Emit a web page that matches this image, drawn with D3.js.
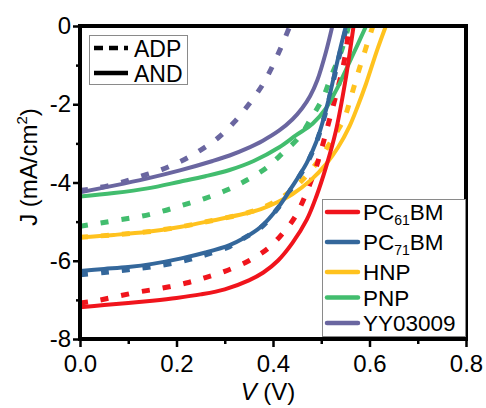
<!DOCTYPE html>
<html>
<head>
<meta charset="utf-8">
<script src="https://cdn.jsdelivr.net/npm/d3@7"></script>
<style>
  html, body { margin: 0; padding: 0; background: #fff; }
  svg text { font-family: "Liberation Sans", Arial, sans-serif; fill: #000; }
</style>
</head>
<body>
<svg id="chart" width="486" height="408"></svg>
<script>
// J–V curves: voltage (V) and current density (mA/cm²) for each acceptor,
// ADP (dashed) and AND (solid) processing.
const acceptors = ["PC61BM", "PC71BM", "HNP", "PNP", "YY03009"];
const colors = ["#f0141c", "#34679b", "#ffc21e", "#42bd6e", "#6a66a0"];

const pc61AndV = [0, 0.05, 0.10, 0.15, 0.20, 0.25, 0.30, 0.35, 0.38, 0.41, 0.44, 0.47, 0.49, 0.51, 0.53, 0.55, 0.567];
const pc61AndJ = [-7.19, -7.13, -7.08, -7.02, -6.95, -6.86, -6.73, -6.5, -6.3, -6.0, -5.55, -4.95, -4.35, -3.6, -2.7, -1.4, 0];
const pc61AdpV = [0, 0.03, 0.07, 0.12, 0.17, 0.22, 0.26, 0.30, 0.35, 0.39, 0.42, 0.448, 0.486, 0.50, 0.513, 0.537, 0.548, 0.558];
const pc61AdpJ = [-7.08, -7.03, -6.93, -6.8, -6.7, -6.57, -6.43, -6.27, -6.0, -5.68, -5.3, -4.83, -3.73, -3.17, -2.58, -1.46, -0.87, 0];

const pc71AndV = [0, 0.05, 0.10, 0.15, 0.21, 0.26, 0.31, 0.34, 0.375, 0.41, 0.44, 0.47, 0.49, 0.503, 0.515, 0.527, 0.54, 0.551];
const pc71AndJ = [-6.26, -6.21, -6.16, -6.08, -5.94, -5.79, -5.6, -5.42, -5.13, -4.65, -4.1, -3.5, -2.95, -2.45, -1.9, -1.25, -0.55, 0];
const pc71AdpV = [0, 0.05, 0.10, 0.15, 0.21, 0.26, 0.31, 0.34, 0.375, 0.41, 0.44, 0.47, 0.49, 0.503, 0.515, 0.527, 0.541, 0.553];
const pc71AdpJ = [-6.36, -6.3, -6.23, -6.15, -6.02, -5.85, -5.64, -5.42, -5.15, -4.66, -4.12, -3.52, -2.97, -2.47, -1.93, -1.3, -0.58, 0];

const hnpAndV = [0, 0.07, 0.14, 0.21, 0.275, 0.34, 0.375, 0.41, 0.44, 0.48, 0.51, 0.535, 0.558, 0.575, 0.593, 0.616, 0.634];
const hnpAndJ = [-5.4, -5.34, -5.26, -5.13, -4.97, -4.8, -4.68, -4.5, -4.3, -3.92, -3.53, -3.1, -2.58, -2.07, -1.47, -0.61, 0];
const hnpAdpV = [0, 0.07, 0.14, 0.21, 0.275, 0.34, 0.375, 0.41, 0.434, 0.46, 0.496, 0.52, 0.548, 0.562, 0.575, 0.589, 0.607];
const hnpAdpJ = [-5.4, -5.34, -5.26, -5.13, -4.97, -4.8, -4.66, -4.45, -4.24, -3.95, -3.41, -2.95, -2.35, -1.8, -1.25, -0.7, 0];

const pnpAndV = [0, 0.07, 0.14, 0.207, 0.26, 0.31, 0.36, 0.413, 0.448, 0.482, 0.51, 0.531, 0.55, 0.564, 0.593];
const pnpAndJ = [-4.36, -4.27, -4.15, -3.98, -3.84, -3.68, -3.45, -3.1, -2.79, -2.5, -2.1, -1.64, -1.15, -0.78, 0];
const pnpAdpV = [0, 0.035, 0.079, 0.124, 0.169, 0.213, 0.258, 0.303, 0.344, 0.386, 0.42, 0.455, 0.479, 0.503, 0.52, 0.54, 0.557];
const pnpAdpJ = [-5.12, -5.05, -4.96, -4.87, -4.74, -4.58, -4.41, -4.2, -3.95, -3.63, -3.25, -2.83, -2.36, -1.85, -1.3, -0.7, 0];

const yyAndV = [0, 0.07, 0.138, 0.207, 0.275, 0.31, 0.344, 0.379, 0.413, 0.44, 0.46, 0.477, 0.492, 0.51, 0.523];
const yyAndJ = [-4.25, -4.08, -3.9, -3.69, -3.45, -3.31, -3.14, -2.93, -2.67, -2.39, -2.11, -1.79, -1.38, -0.65, 0];
const yyAdpV = [0, 0.031, 0.079, 0.124, 0.169, 0.21, 0.25, 0.287, 0.32, 0.35, 0.378, 0.40, 0.42, 0.435];
const yyAdpJ = [-4.2, -4.15, -4.02, -3.85, -3.67, -3.45, -3.17, -2.85, -2.45, -2.0, -1.51, -1.0, -0.45, 0];

const xMajor = [0, 0.2, 0.4, 0.6, 0.8];
const xMinor = [0.1, 0.3, 0.5, 0.7];
const yMajor = [0, -2, -4, -6, -8];
const yMinor = [-1, -3, -5, -7];
const styleNames = ["ADP", "AND"];

// series built from the arrays above
const adpSeries = [[pc61AdpV, pc61AdpJ], [pc71AdpV, pc71AdpJ], [hnpAdpV, hnpAdpJ], [pnpAdpV, pnpAdpJ], [yyAdpV, yyAdpJ]];
const andSeries = [[pc61AndV, pc61AndJ], [pc71AndV, pc71AndJ], [hnpAndV, hnpAndJ], [pnpAndV, pnpAndJ], [yyAndV, yyAndJ]];
const toPoints = ([v, j]) => v.map((d, i) => ({ v: d, j: j[i] }));

const svg = d3.select("#chart");
const plotL = 80, plotR = 466, plotT = 26, plotB = 339;

const x = d3.scaleLinear().domain([0, 0.8]).range([plotL, plotR]);
const y = d3.scaleLinear().domain([-8, 0]).range([plotB, plotT]);

svg.append("defs").append("clipPath").attr("id", "plotClip")
  .append("rect").attr("x", plotL).attr("y", plotT).attr("width", plotR - plotL).attr("height", plotB - plotT);

const line = d3.line().x(d => x(d.v)).y(d => y(d.j)).curve(d3.curveCatmullRom.alpha(0.5));
const plot = svg.append("g").attr("clip-path", "url(#plotClip)");

// dashed (ADP) curves, then solid (AND) curves drawn on top
const order = [4, 3, 2, 1, 0];
order.forEach(i => {
  plot.append("path").datum(toPoints(adpSeries[i]))
    .attr("d", line).attr("fill", "none")
    .attr("stroke", colors[i]).attr("stroke-width", 5)
    .attr("stroke-dasharray", "8,13");
});
order.forEach(i => {
  plot.append("path").datum(toPoints(andSeries[i]))
    .attr("d", line).attr("fill", "none")
    .attr("stroke", colors[i]).attr("stroke-width", 4);
});

// axes
const fmtX = d3.format(".1f");
svg.append("g").attr("transform", `translate(0,${plotB})`)
  .call(d3.axisBottom(x).tickValues(xMajor).tickFormat(fmtX).tickSize(8).tickPadding(8));
svg.append("g").attr("transform", `translate(0,${plotB})`)
  .call(d3.axisBottom(x).tickValues(xMinor).tickFormat("").tickSize(5));
svg.append("g").attr("transform", `translate(${plotL},0)`)
  .call(d3.axisLeft(y).tickValues(yMajor).tickFormat(d => String(d)).tickSize(7).tickPadding(2));
svg.append("g").attr("transform", `translate(${plotL},0)`)
  .call(d3.axisLeft(y).tickValues(yMinor).tickFormat("").tickSize(4));

svg.selectAll(".domain").remove();
svg.selectAll(".tick line").attr("stroke", "#000").attr("stroke-width", 2.5);
svg.selectAll(".tick text").attr("font-size", 24).attr("fill", "#000")
  .attr("font-family", "Liberation Sans, Arial, sans-serif");

// frame
svg.append("rect").attr("x", plotL).attr("y", plotT)
  .attr("width", plotR - plotL).attr("height", plotB - plotT)
  .attr("fill", "none").attr("stroke", "#000").attr("stroke-width", 4);

// axis titles
const xt = svg.append("text").attr("x", (plotL + plotR) / 2 - 5).attr("y", 400)
  .attr("text-anchor", "middle").attr("font-size", 24);
xt.append("tspan").attr("font-style", "italic").text("V");
xt.append("tspan").text(" (V)");

const yt = svg.append("text").attr("transform", "translate(37,167) rotate(-90)")
  .attr("text-anchor", "middle").attr("font-size", 24);
yt.append("tspan").text("J (mA/cm");
yt.append("tspan").attr("font-size", 15).attr("dy", -10).text("2");
yt.append("tspan").attr("dy", 10).text(")");

// line-style legend
const lg1 = svg.append("g");
lg1.append("rect").attr("x", 89.5).attr("y", 35.5).attr("width", 98).attr("height", 49)
  .attr("fill", "#fff").attr("stroke", "#8a8a8a").attr("stroke-width", 1);
styleNames.forEach((name, i) => {
  const ly = 48 + i * 25;
  lg1.append("line").attr("x1", 94).attr("x2", 128).attr("y1", ly).attr("y2", ly)
    .attr("stroke", "#000").attr("stroke-width", 4.5)
    .attr("stroke-dasharray", i === 0 ? "9,6" : null);
  lg1.append("text").attr("x", 134).attr("y", ly + 8.5).attr("font-size", 23).text(name);
});

// acceptor legend
const lg2 = svg.append("g");
lg2.append("rect").attr("x", 322.5).attr("y", 199.5).attr("width", 143).attr("height", 137)
  .attr("fill", "#fff").attr("stroke", "#8a8a8a").attr("stroke-width", 1);
const rowY = [212, 242, 272, 297.5, 323];
acceptors.forEach((name, i) => {
  const ly = rowY[i];
  lg2.append("line").attr("x1", 327).attr("x2", 358).attr("y1", ly).attr("y2", ly)
    .attr("stroke", colors[i]).attr("stroke-width", 4.5).attr("stroke-linecap", "round");
  const t = lg2.append("text").attr("x", 363).attr("y", ly + 8).attr("font-size", 22.5);
  const m = name.match(/^PC(\d+)BM$/);
  if (m) {
    t.append("tspan").text("PC");
    t.append("tspan").attr("font-size", 14).attr("dy", 5).text(m[1]);
    t.append("tspan").attr("dy", -5).text("BM");
  } else {
    t.text(name);
  }
});
</script>
</body>
</html>
